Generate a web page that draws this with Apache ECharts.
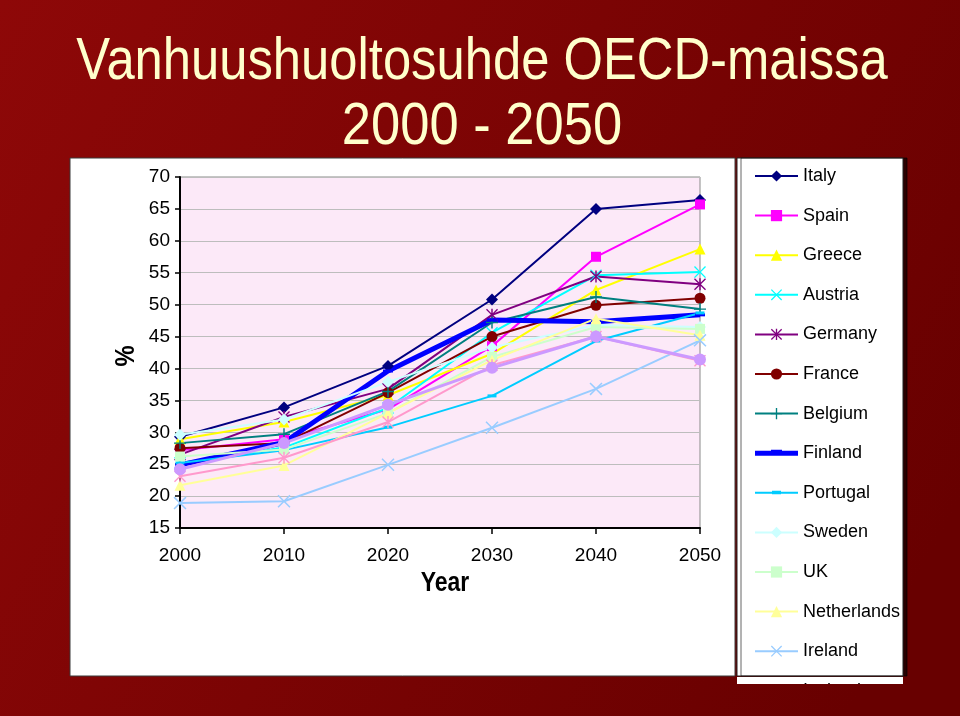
<!DOCTYPE html>
<html>
<head>
<meta charset="utf-8">
<script src="https://cdn.jsdelivr.net/npm/echarts@6/dist/echarts.min.js"></script>
<style>
html,body{margin:0;padding:0;background:#7a0000;}
#chart{width:960px;height:716px;}
</style>
</head>
<body>
<div id="chart"></div>
<script>
// ---- data ----
var titleLines = ['Vanhuushuoltosuhde OECD-maissa', '2000 - 2050'];
var years = ['2000', '2010', '2020', '2030', '2040', '2050'];
var yTicks = { min: 15, max: 70, step: 5 };
var countries = ['Italy', 'Spain', 'Greece', 'Austria', 'Germany', 'France', 'Belgium', 'Finland',
  'Portugal', 'Sweden', 'UK', 'Netherlands', 'Ireland', 'Iceland', 'Luxembourg'];
var italy       = [29.3, 33.9, 40.4, 50.8, 65.0, 66.4];
var spain       = [27.2, 28.9, 33.6, 43.5, 57.5, 65.7];
var greece      = [28.9, 31.6, 35.8, 42.3, 52.3, 58.7];
var austria     = [25.2, 27.6, 33.8, 45.6, 54.6, 55.1];
var germany     = [26.5, 32.4, 36.8, 48.4, 54.4, 53.2];
var france      = [27.5, 28.3, 36.2, 45.0, 49.9, 51.0];
var belgium     = [28.3, 29.7, 36.4, 47.2, 51.2, 49.3];
var finland     = [24.9, 28.4, 39.6, 47.6, 47.3, 48.4];
var portugal    = [25.2, 27.2, 30.8, 35.7, 44.3, 48.7];
var sweden      = [29.6, 32.0, 37.9, 43.3, 46.8, 46.5];
var uk          = [26.2, 27.3, 33.0, 41.8, 46.5, 46.2];
var netherlands = [21.7, 24.8, 33.0, 41.3, 47.8, 45.2];
var ireland     = [18.9, 19.2, 24.9, 30.7, 36.8, 44.4];
var iceland     = [23.1, 26.0, 31.6, 40.5, 45.0, 41.2];
var luxembourg  = [24.2, 28.3, 34.3, 40.1, 45.0, 41.4];
var seriesValues = [italy, spain, greece, austria, germany, france, belgium, finland,
  portugal, sweden, uk, netherlands, ireland, iceland, luxembourg];

// ---- styles ----
var FONT = '"Liberation Sans Narrow", "Arial Narrow", "Liberation Sans", Arial, sans-serif';
var X_PATH = 'path://M0,0.8 L0.8,0 L5,4.2 L9.2,0 L10,0.8 L5.8,5 L10,9.2 L9.2,10 L5,5.8 L0.8,10 L0,9.2 L4.2,5 Z';
var STAR_PATH = 'path://M0,0.8 L0.8,0 L5,4.2 L9.2,0 L10,0.8 L5.8,5 L10,9.2 L9.2,10 L5,5.8 L0.8,10 L0,9.2 L4.2,5 Z M4.4,0 L5.6,0 L5.6,10 L4.4,10 Z';
var PLUS_PATH = 'path://M4.4,0 L5.6,0 L5.6,4.4 L10,4.4 L10,5.6 L5.6,5.6 L5.6,10 L4.4,10 L4.4,5.6 L0,5.6 L0,4.4 L4.4,4.4 Z';
// legend icons in a 43x14 box (tiny corner specks fix the bounding box)
var BOX = 'M0,0 L0.01,0 L0.01,0.01 Z M42.99,13.99 L43,13.99 L43,14 Z ';
var FINLAND_ICON = 'path://' + BOX + 'M0,4.5 L43,4.5 L43,9.5 L0,9.5 Z M16,3.5 L27,3.5 L27,6 L16,6 Z';
var PORTUGAL_ICON = 'path://' + BOX + 'M0,6 L43,6 L43,8 L0,8 Z M17,5 L26,5 L26,8.5 L17,8.5 Z';
var styles = [
  { color: '#000080', symbol: 'diamond', size: 12, width: 2 },
  { color: '#FF00FF', symbol: 'rect', size: 10, width: 2 },
  { color: '#FFFF00', symbol: 'triangle', size: 11, width: 2 },
  { color: '#00FFFF', symbol: X_PATH, size: 12, width: 2 },
  { color: '#800080', symbol: STAR_PATH, size: 12, width: 2 },
  { color: '#800000', symbol: 'circle', size: 11, width: 2 },
  { color: '#008080', symbol: PLUS_PATH, size: 12, width: 2 },
  { color: '#0000FF', symbol: 'rect', size: [10, 3], width: 5, icon: FINLAND_ICON },
  { color: '#00CCFF', symbol: 'rect', size: [9, 3], width: 2, icon: PORTUGAL_ICON },
  { color: '#CCFFFF', symbol: 'diamond', size: 12, width: 2 },
  { color: '#CCFFCC', symbol: 'rect', size: 10, width: 2 },
  { color: '#FFFF99', symbol: 'triangle', size: 11, width: 2 },
  { color: '#99CCFF', symbol: X_PATH, size: 13, width: 2 },
  { color: '#FF99CC', symbol: STAR_PATH, size: 12, width: 2 },
  { color: '#CC99FF', symbol: 'circle', size: 12, width: 3 }
];

var bgGrad = {
  type: 'linear', x: 0, y: 0, x2: 960, y2: 500, global: true,
  colorStops: [{ offset: 0, color: '#8E0808' }, { offset: 1, color: '#680000' }]
};

var series = countries.map(function (name, i) {
  var s = styles[i];
  return {
    name: name,
    type: 'line',
    data: seriesValues[i],
    symbol: s.symbol,
    symbolSize: s.size,
    showAllSymbol: true,
    animation: false,
    lineStyle: { color: s.color, width: s.width },
    itemStyle: { color: s.color, borderWidth: 0 },
    emphasis: { disabled: true }
  };
});

var legendData = countries.map(function (name, i) {
  var item = { name: name };
  if (styles[i].icon) item.icon = styles[i].icon;
  return item;
});

function titleText(str, y, sx) {
  return {
    type: 'text', z: 50, silent: true, x: 482, y: y, scaleX: sx,
    style: {
      text: str, fill: '#FFFFCC', font: '59px "Liberation Sans", Arial, sans-serif',
      textAlign: 'center', textVerticalAlign: 'middle',
      shadowColor: 'rgba(20,0,0,0.9)', shadowOffsetX: 2, shadowOffsetY: 2, shadowBlur: 1
    }
  };
}

var chart = echarts.init(document.getElementById('chart'), null, { renderer: 'canvas' });
chart.setOption({
  animation: false,
  graphic: [
    { type: 'rect', z: -100, silent: true, shape: { x: 0, y: 0, width: 960, height: 716 }, style: { fill: bgGrad } },
    { type: 'rect', z: -90, silent: true, shape: { x: 70, y: 158, width: 665, height: 518 }, style: { fill: '#FFFFFF', stroke: '#3a3a3a', lineWidth: 1 } },
    { type: 'rect', z: -90, silent: true, shape: { x: 737, y: 158, width: 166, height: 518 }, style: { fill: '#FFFFFF', stroke: '#222222', lineWidth: 1, shadowColor: 'rgba(0,0,0,0.6)', shadowOffsetX: 4, shadowOffsetY: 0 } },
    { type: 'rect', z: -89, silent: true, shape: { x: 737, y: 677, width: 166, height: 12 }, style: { fill: '#FFFFFF' } },
    { type: 'rect', z: 1000, silent: true, shape: { x: 730, y: 684, width: 200, height: 32 }, style: { fill: bgGrad } },
    titleText(titleLines[0], 63, 0.86),
    titleText(titleLines[1], 128, 0.89),
    { type: 'text', z: 50, silent: true, x: 445, y: 583, scaleX: 0.82, style: { text: 'Year', fill: '#000', font: 'bold 28px "Liberation Sans", Arial, sans-serif', textAlign: 'center', textVerticalAlign: 'middle' } },
    { type: 'text', z: 50, silent: true, x: 126, y: 356, rotation: Math.PI / 2, scaleX: 0.85, style: { text: '%', fill: '#000', font: 'bold 28px "Liberation Sans", Arial, sans-serif', textAlign: 'center', textVerticalAlign: 'middle' } }
  ],
  legend: {
    orient: 'vertical',
    left: 754,
    top: 166,
    height: 700,
    itemWidth: 43,
    itemHeight: 14,
    itemGap: 19.6,
    selectedMode: false,
    padding: 0,
    data: legendData,
    textStyle: { color: '#000', fontSize: 18, fontFamily: FONT, lineHeight: 20 }
  },
  grid: {
    left: 180, right: 260, top: 177, bottom: 188,
    show: true, backgroundColor: '#FCE9F8', borderColor: '#8a8a8a', borderWidth: 1
  },
  xAxis: {
    type: 'category',
    data: years,
    boundaryGap: false,
    axisLine: { lineStyle: { color: '#000', width: 2 } },
    axisTick: { show: true, inside: false, length: 6, lineStyle: { color: '#000', width: 1.5 } },
    axisLabel: { color: '#000', fontSize: 19, fontFamily: FONT, margin: 18, lineHeight: 20 },
    splitLine: { show: false }
  },
  yAxis: {
    type: 'value',
    min: yTicks.min, max: yTicks.max, interval: yTicks.step,
    axisLine: { show: true, lineStyle: { color: '#000', width: 2 } },
    axisTick: { show: true, inside: false, length: 5, lineStyle: { color: '#000', width: 1.5 } },
    axisLabel: { color: '#000', fontSize: 19, fontFamily: FONT, margin: 10 },
    splitLine: { show: true, lineStyle: { color: '#BDBDBD', width: 1 } }
  },
  series: series
});
</script>
</body>
</html>
